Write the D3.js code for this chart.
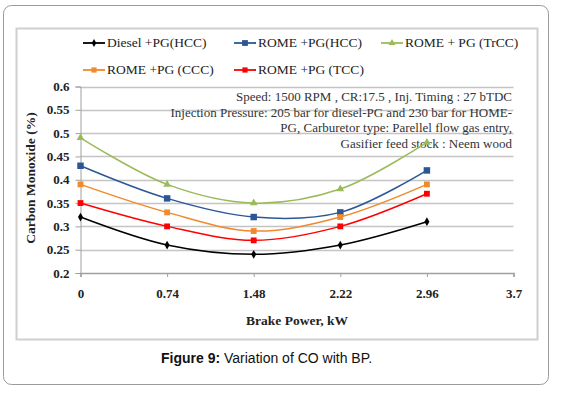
<!DOCTYPE html>
<html>
  <head>
    <meta charset="utf-8">
    <title></title>
    <script src="https://cdn.jsdelivr.net/npm/d3@7"></script>
    <style>
      body { margin: 0; background: #fff; }
      svg text { font-family: "Liberation Serif", "Times New Roman", serif; }
    </style>
  </head>
  <body>
    <script type="text/javascript">

    var width = 561,
        height = 397;

    // brake power, kW
    var power = [0, 0.74, 1.48, 2.22, 2.96];
    var xTicks = [0, 0.74, 1.48, 2.22, 2.96, 3.7];
    var yTicks = [0.2, 0.25, 0.3, 0.35, 0.4, 0.45, 0.5, 0.55, 0.6];

    var seriesNames = ["Diesel +PG(HCC)", "ROME +PG(HCC)", "ROME + PG (TrCC)",
                       "ROME +PG (CCC)", "ROME +PG (TCC)"];
    var dieselHCC = [0.32, 0.26, 0.24, 0.26, 0.31];
    var romeHCC   = [0.43, 0.36, 0.32, 0.33, 0.42];
    var romeTrCC  = [0.49, 0.39, 0.35, 0.38, 0.48];
    var romeCCC   = [0.39, 0.33, 0.29, 0.32, 0.39];
    var romeTCC   = [0.35, 0.30, 0.27, 0.30, 0.37];

    var notes = [
      "Speed: 1500 RPM , CR:17.5 , Inj. Timing  : 27 bTDC",
      "Injection Pressure: 205 bar for diesel-PG and 230 bar  for HOME-",
      "PG, Carburetor type: Parellel flow gas entry,",
      "Gasifier feed stock : Neem wood"
    ];

    var series = [
      {name: seriesNames[0], values: dieselHCC, color: "#000000", shape: d3.symbolDiamond, size: 22},
      {name: seriesNames[1], values: romeHCC,   color: "#2b5797", shape: d3.symbolSquare, size: 42},
      {name: seriesNames[2], values: romeTrCC,  color: "#9bbb59", shape: d3.symbolTriangle, size: 26},
      {name: seriesNames[3], values: romeCCC,   color: "#f08a2c", shape: d3.symbolSquare, size: 34},
      {name: seriesNames[4], values: romeTCC,   color: "#ff0000", shape: d3.symbolSquare, size: 34}
    ];

    var x = d3.scaleLinear().domain([0, 3.7]).range([80.5, 513.5]);
    var y = d3.scaleLinear().domain([0.2, 0.6]).range([273, 86.5]);

    var svg = d3.select("body").append("svg")
        .attr("width", width)
        .attr("height", height);

    // outer frame and chart area
    svg.append("rect")
        .attr("x", 3.5).attr("y", 5.5)
        .attr("width", 545).attr("height", 379)
        .attr("rx", 8)
        .attr("fill", "#fff")
        .attr("stroke", "#9a9a9a");

    svg.append("rect")
        .attr("x", 16.5).attr("y", 28.5)
        .attr("width", 521).attr("height", 311)
        .attr("fill", "#fff")
        .attr("stroke", "#cfcfcf")
        .attr("stroke-width", 2);

    // gridlines
    svg.append("g")
        .selectAll("line")
        .data(yTicks.slice(1))
        .enter().append("line")
          .attr("x1", x(0)).attr("x2", x(3.7))
          .attr("y1", function(d) { return Math.round(y(d)) + 0.5; })
          .attr("y2", function(d) { return Math.round(y(d)) + 0.5; })
          .attr("stroke", "#c4c4c4")
          .attr("stroke-width", 1.6);

    // y axis
    var yAxis = svg.append("g")
        .attr("transform", "translate(" + x(0) + ",0)")
        .call(d3.axisLeft(y).tickValues(yTicks).tickSize(5).tickPadding(6)
          .tickFormat(d3.format("")));
    yAxis.select(".domain").attr("stroke", "#a0a0a0");
    yAxis.selectAll(".tick line").attr("stroke", "#a0a0a0");
    yAxis.selectAll(".tick text")
        .attr("font-size", 13).attr("font-weight", "bold")
        .attr("font-family", "Liberation Serif, serif").attr("fill", "#222");

    // x axis
    var xAxis = svg.append("g")
        .attr("transform", "translate(0," + y(0.2) + ")")
        .call(d3.axisBottom(x).tickValues(xTicks).tickSize(4).tickPadding(12)
          .tickFormat(d3.format("")));
    xAxis.select(".domain").attr("stroke", "#a0a0a0").attr("stroke-width", 1.5);
    xAxis.selectAll(".tick line").attr("stroke", "#a0a0a0");
    xAxis.selectAll(".tick text")
        .attr("font-size", 13).attr("font-weight", "bold")
        .attr("font-family", "Liberation Serif, serif").attr("fill", "#222");

    // axis titles
    svg.append("text")
        .attr("x", (x(0) + x(3.7)) / 2)
        .attr("y", 325)
        .attr("text-anchor", "middle")
        .attr("font-size", 13.5).attr("font-weight", "bold")
        .attr("fill", "#222")
        .text("Brake Power,  kW");

    svg.append("text")
        .attr("transform", "translate(35,178) rotate(-90)")
        .attr("text-anchor", "middle")
        .attr("font-size", 13.5).attr("font-weight", "bold")
        .attr("fill", "#222")
        .text("Carbon Monoxide (%)");

    // notes
    svg.append("g")
        .selectAll("text")
        .data(notes)
        .enter().append("text")
          .attr("x", 512)
          .attr("y", function(d, i) { return 101 + i * 15.5; })
          .attr("text-anchor", "end")
          .attr("font-size", 13)
          .attr("fill", "#333")
          .text(function(d) { return d; });

    // lines
    var line = d3.line()
        .x(function(d, i) { return x(power[i]); })
        .y(function(d) { return y(d); })
        .curve(d3.curveCatmullRom.alpha(0.5));

    var g = svg.selectAll(".series")
        .data(series)
        .enter().append("g")
          .attr("class", "series");

    g.append("path")
        .attr("d", function(s) { return line(s.values); })
        .attr("fill", "none")
        .attr("stroke", function(s) { return s.color; })
        .attr("stroke-width", 1.5);

    g.each(function(s) {
      d3.select(this).selectAll("path.mark")
          .data(s.values)
          .enter().append("path")
            .attr("class", "mark")
            .attr("d", d3.symbol().type(s.shape).size(s.size))
            .attr("transform", function(d, i) {
              return "translate(" + x(power[i]) + "," + y(d) + ")";
            })
            .attr("fill", s.color);
    });

    // legend
    var legendPos = [[83, 47], [234, 47], [381, 47], [83, 74], [234, 74]];

    var legend = svg.selectAll(".legend")
        .data(series)
        .enter().append("g")
          .attr("class", "legend")
          .attr("transform", function(d, i) {
            return "translate(" + legendPos[i][0] + "," + legendPos[i][1] + ")";
          });

    legend.append("line")
        .attr("x1", 0).attr("x2", 22)
        .attr("y1", -4).attr("y2", -4)
        .attr("stroke", function(s) { return s.color; })
        .attr("stroke-width", 1.8);

    legend.append("path")
        .attr("d", function(s) { return d3.symbol().type(s.shape).size(s.size * 0.8)(); })
        .attr("transform", "translate(11,-4)")
        .attr("fill", function(s) { return s.color; });

    legend.append("text")
        .attr("x", 24)
        .attr("font-size", 13.5)
        .attr("fill", "#222")
        .text(function(s) { return s.name; });

    // caption
    var caption = svg.append("text")
        .attr("x", 161)
        .attr("y", 363)
        .attr("font-size", 14)
        .attr("fill", "#111")
        .style("font-family", "Liberation Sans, Arial, sans-serif");

    caption.append("tspan").attr("font-weight", "bold").text("Figure 9:");
    caption.append("tspan").text(" Variation of CO with BP.");

    </script>
  </body>
</html>
